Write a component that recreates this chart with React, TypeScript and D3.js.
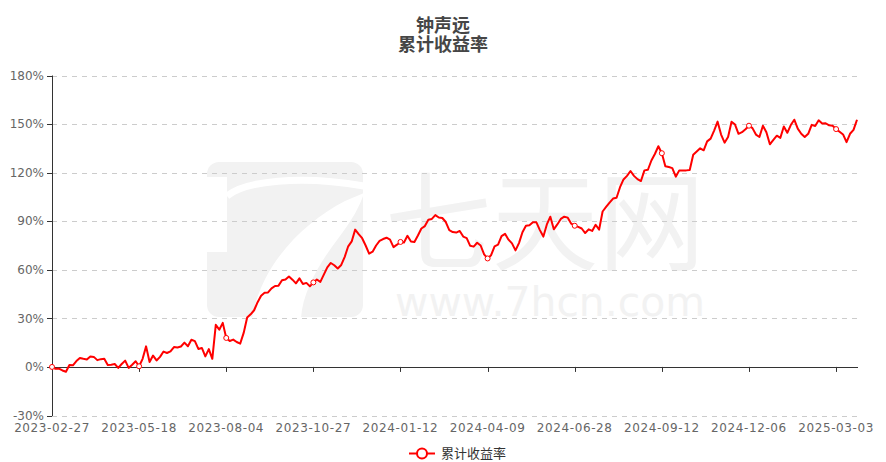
import React from "react";
import * as d3 from "d3";

const titleLines = ["钟声远", "累计收益率"];
const seriesName = "累计收益率";
const yTicks = [-30, 0, 30, 60, 90, 120, 150, 180];
const xLabels = [
  "2023-02-27", "2023-05-18", "2023-08-04", "2023-10-27", "2024-01-12",
  "2024-04-09", "2024-06-28", "2024-09-12", "2024-12-06", "2025-03-03",
];
const labelEvery = 25;
const values = [
  0, -1.2, -1.0, -2.2, -3.0, 1.2, 1.0, 3.6, 5.5, 5.0,
  4.6, 6.5, 6.2, 4.2, 4.8, 5.0, 1.2, 1.4, 1.8, -0.6,
  1.8, 3.9, -0.6, 1.4, 3.5, 0.4, 5.0, 12.7, 3.0, 7.0,
  4.0, 6.2, 9.5, 8.6, 9.6, 12.3, 12.0, 12.6, 15.0, 12.8,
  16.8, 15.9, 11.1, 11.7, 6.5, 11.0, 5.0, 26.0, 23.0, 27.2,
  17.9, 16.0, 16.9, 15.4, 14.4, 21.0, 30.5, 32.5, 35.0, 40.0,
  44.0, 45.8, 46.0, 48.5, 50.0, 50.2, 53.5, 54.0, 55.9, 53.9,
  51.6, 54.7, 51.2, 51.9, 49.8, 52.2, 54.0, 52.5, 57.0, 61.5,
  64.2, 62.8, 60.8, 63.0, 68.0, 74.5, 77.5, 84.8, 82.0, 79.5,
  75.0, 70.0, 71.2, 75.0, 77.8, 79.0, 79.8, 78.6, 74.0, 75.5,
  77.2, 76.9, 81.0, 77.5, 77.2, 81.2, 85.5, 87.0, 90.9, 91.4,
  93.8, 92.3, 92.0, 89.5, 84.5, 83.3, 83.0, 84.0, 80.5, 79.6,
  74.8, 74.3, 76.7, 75.0, 69.5, 67.0, 69.0, 74.5, 75.5, 80.8,
  82.2, 78.6, 76.3, 72.0, 76.5, 83.2, 87.2, 87.5, 89.3, 89.3,
  84.5, 80.5, 88.0, 92.8, 85.0, 88.0, 91.4, 92.8, 92.2, 88.5,
  87.2, 86.5, 85.5, 82.7, 85.0, 84.0, 87.8, 84.8, 96.0, 98.8,
  101.5, 104.0, 104.5, 111.0, 115.8, 118.0, 121.0, 118.0, 116.0, 114.8,
  121.4, 121.8, 127.5, 131.5, 136.3, 132.0, 124.0, 123.5, 122.8, 117.5,
  121.4, 121.4, 121.4, 121.6, 131.0, 133.0, 135.0, 133.8, 139.3, 141.0,
  146.0, 151.5, 143.5, 138.5, 142.0, 151.4, 149.7, 144.0, 145.0, 146.8,
  149.0, 147.5, 143.5, 142.0, 149.0, 145.0, 137.5, 140.2, 142.8, 141.5,
  148.5, 144.6, 149.4, 152.7, 147.2, 144.0, 142.0, 144.0, 149.5, 148.8,
  152.3, 150.4, 150.5, 149.2, 149.0, 146.9, 145.3, 143.6, 138.8, 144.0,
  146.4, 152.7,
];

const W = 886;
const H = 462;
const left = 52;
const right = 857;
const top = 75.5;
const bottom = 415.5;
const RED = "#ff0000";
const WM = "#f2f2f2";
const FONT = "'DejaVu Sans', 'Noto Sans CJK SC', sans-serif";
const CJK = "'Noto Sans CJK SC', sans-serif";

export default function App() {
  const x = d3.scaleLinear().domain([0, values.length - 1]).range([left, right]);
  const y = d3.scaleLinear().domain([-30, 180]).range([bottom, top]);
  const line = d3
    .line<number>()
    .x((_, i) => x(i))
    .y((d) => y(d))
    .curve(d3.curveLinear);
  const labelIdx = xLabels.map((_, i) => i * labelEvery);
  const y0 = y(0);

  return (
    <svg
      width={W}
      height={H}
      style={{ position: "absolute", left: 0, top: 0, background: "#fff" }}
    >
      {/* watermark */}
      <g>
        <rect x={207} y={162} width={156} height={155} rx={12} fill={WM} />
        <rect x={204} y={177} width={23} height={75} fill="#fff" />
        <path
          d="M227,196 C245,181 300,175 364,186"
          fill="none"
          stroke="#fff"
          strokeWidth={7}
        />
        <path
          d="M345,201 C305,222 262,262 252,318 L301,318 C303,290 320,262 340,236 C352,220 360,206 364,193 Z"
          fill="#fff"
        />
        <text
          x={385}
          y={262}
          fontSize={108}
          fontFamily={CJK}
          textLength={320}
          lengthAdjust="spacingAndGlyphs"
          fill={WM}
        >
          七天网
        </text>
        <text
          x={395}
          y={316}
          fontSize={40}
          fontFamily={FONT}
          textLength={310}
          lengthAdjust="spacingAndGlyphs"
          fill={WM}
        >
          www.7hcn.com
        </text>
      </g>

      {/* title */}
      <g fontFamily={CJK} fontWeight="bold" fontSize={18} fill="#464646" textAnchor="middle">
        <text x={W / 2} y={32}>{titleLines[0]}</text>
        <text x={W / 2} y={51}>{titleLines[1]}</text>
      </g>

      {/* grid */}
      <g>
        {yTicks
          .filter((t) => t !== 0)
          .map((t) => (
            <line
              key={t}
              x1={left}
              x2={right + 1}
              y1={Math.round(y(t)) + 0.5}
              y2={Math.round(y(t)) + 0.5}
              stroke="#cccccc"
              strokeDasharray="5,5"
            />
          ))}
      </g>

      {/* y axis */}
      <g>
        <line
          x1={left + 0.5}
          x2={left + 0.5}
          y1={top}
          y2={bottom + 0.5}
          stroke="#333"
        />
        {yTicks.map((t) => (
          <g key={t}>
            <line
              x1={left - 5}
              x2={left}
              y1={Math.round(y(t)) + 0.5}
              y2={Math.round(y(t)) + 0.5}
              stroke="#333"
            />
            <text
              x={left - 8}
              y={y(t)}
              dy="0.35em"
              textAnchor="end"
              fontSize={12}
              fontFamily={FONT}
              fill="#666"
            >
              {t}%
            </text>
          </g>
        ))}
      </g>

      {/* x axis */}
      <g>
        <line
          x1={left}
          x2={right + 1}
          y1={Math.round(y0) + 0.5}
          y2={Math.round(y0) + 0.5}
          stroke="#333"
        />
        {labelIdx.map((idx, k) => (
          <g key={k}>
            <line
              x1={Math.round(x(idx)) + 0.5}
              x2={Math.round(x(idx)) + 0.5}
              y1={y0}
              y2={y0 + 5}
              stroke="#333"
            />
            <text
              x={x(idx)}
              y={432}
              textAnchor="middle"
              fontSize={12}
              fontFamily={FONT}
              fill="#666"
              letterSpacing={0.6}
            >
              {xLabels[k]}
            </text>
          </g>
        ))}
      </g>

      {/* series */}
      <path
        d={line(values) || ""}
        fill="none"
        stroke={RED}
        strokeWidth={2}
        strokeLinejoin="round"
      />
      {labelIdx.map((idx) => (
        <circle
          key={idx}
          cx={x(idx)}
          cy={y(values[idx])}
          r={2.5}
          fill="#fff"
          stroke={RED}
          strokeWidth={1}
        />
      ))}

      {/* legend */}
      <g>
        <line x1={409} x2={435} y1={453.5} y2={453.5} stroke={RED} strokeWidth={2} />
        <circle cx={422} cy={453.5} r={5} fill="#fff" stroke={RED} strokeWidth={2} />
        <text x={441} y={458} fontSize={13} fontFamily={CJK} fill="#333">
          {seriesName}
        </text>
      </g>
    </svg>
  );
}
